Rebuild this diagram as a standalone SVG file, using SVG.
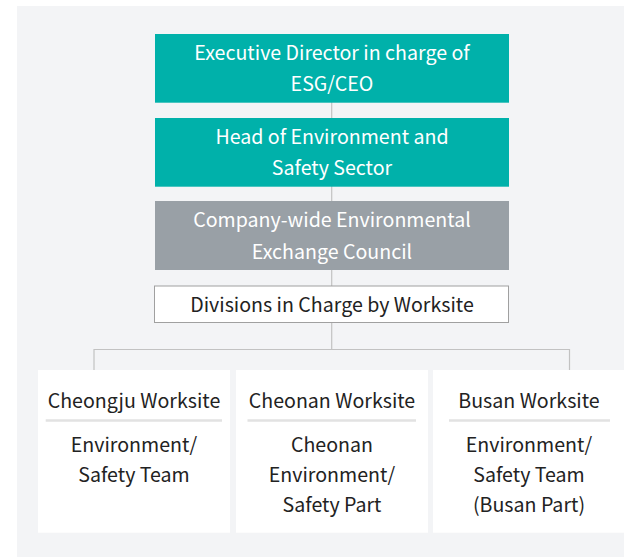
<svg xmlns="http://www.w3.org/2000/svg" width="624" height="557" viewBox="0 0 624 557">
<style>
text{font-family:"Noto Sans CJK KR","Noto Sans",sans-serif;font-size:19.6px;text-anchor:middle}
.w{fill:#ffffff}
.d{fill:#222222}
.teal{fill:#00b1aa}
.gray{fill:#99a0a6}
.line{stroke:#c2c2c2;stroke-width:1.2;fill:none}
.card{fill:#ffffff}
.sep{stroke:#e2e2e2;stroke-width:2.5}
</style>
<rect x="17" y="6" width="607" height="551" fill="#f3f4f6"/>
<g id="connectors">
<line class="line" x1="331.7" y1="102" x2="331.7" y2="349.5"/>
<polyline class="line" points="94,370 94,349.5 569.5,349.5 569.5,370"/>
</g>
<g id="node-ceo">
<rect class="teal" x="155" y="34" width="354" height="68.7"/>
<text class="w" x="332" y="60.3">Executive Director in charge of</text>
<text class="w" x="332" y="91.3">ESG/CEO</text>
</g>
<g id="node-head">
<rect class="teal" x="155" y="118" width="354" height="68.7"/>
<text class="w" x="332" y="144">Head of Environment and</text>
<text class="w" x="332" y="175">Safety Sector</text>
</g>
<g id="node-council">
<rect class="gray" x="155" y="201" width="354" height="69"/>
<text class="w" x="332" y="226.7">Company-wide Environmental</text>
<text class="w" x="332" y="258.7">Exchange Council</text>
</g>
<g id="node-divisions">
<rect x="154.5" y="286" width="354" height="36.5" fill="#ffffff" stroke="#a0a0a0" stroke-width="1"/>
<text class="d" x="332" y="311.5">Divisions in Charge by Worksite</text>
</g>
<g id="node-cheongju">
<rect class="card" x="38" y="370" width="192" height="162.7"/>
<text class="d" x="134" y="408.3">Cheongju Worksite</text>
<line class="sep" x1="45.7" y1="420.5" x2="222" y2="420.5"/>
<text class="d" x="134" y="452">Environment/</text>
<text class="d" x="134" y="482">Safety Team</text>
</g>
<g id="node-cheonan">
<rect class="card" x="236" y="370" width="192" height="162.7"/>
<text class="d" x="332" y="408.3">Cheonan Worksite</text>
<line class="sep" x1="247.5" y1="420.5" x2="416" y2="420.5"/>
<text class="d" x="332" y="452">Cheonan</text>
<text class="d" x="332" y="482">Environment/</text>
<text class="d" x="332" y="512">Safety Part</text>
</g>
<g id="node-busan">
<rect class="card" x="433" y="370" width="191" height="162.7"/>
<text class="d" x="529" y="408.3">Busan Worksite</text>
<line class="sep" x1="449" y1="420.5" x2="610" y2="420.5"/>
<text class="d" x="529" y="452">Environment/</text>
<text class="d" x="529" y="482">Safety Team</text>
<text class="d" x="529" y="512">(Busan Part)</text>
</g>
</svg>
